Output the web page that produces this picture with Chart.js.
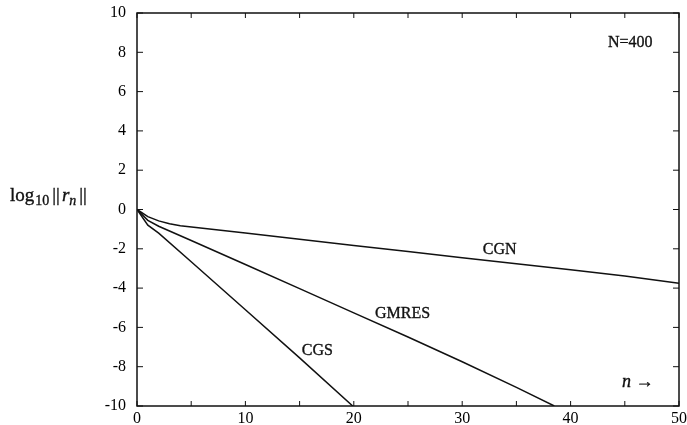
<!DOCTYPE html>
<html>
<head>
<meta charset="utf-8">
<script src="https://cdn.jsdelivr.net/npm/chart.js@4/dist/chart.umd.min.js"></script>
<style>
    html, body { margin: 0; padding: 0; background: #fff; }
    #wrap { width: 687px; height: 425px; }
</style>
</head>
<body>
<div id="wrap"><canvas id="chart" width="687" height="425"></canvas></div>
<script>
// values
var cgnX = [0, 1, 2, 3, 4, 10, 15, 20, 25, 30, 35, 40, 45, 50];
var cgnY = [0, -0.36, -0.58, -0.73, -0.83, -1.2, -1.51, -1.83, -2.14, -2.45, -2.76, -3.07, -3.38, -3.75];

var gmresX = [0, 1, 2, 5, 10, 15, 20, 25, 30, 35, 38.5];
var gmresY = [0, -0.55, -0.85, -1.58, -2.8, -4.03, -5.26, -6.49, -7.75, -9.05, -10];

var cgsX = [0, 1, 2, 5, 10, 15, 19.9];
var cgsY = [0, -0.8, -1.2, -2.66, -5.1, -7.55, -10];

var xTicks = [0, 10, 20, 30, 40, 50];
var yTicks = [-10, -8, -6, -4, -2, 0, 2, 4, 6, 8, 10];

var serif = '"Liberation Serif", "DejaVu Serif", serif';

function pts(xs, ys) {
    return xs.map(function (x, i) { return { x: x, y: ys[i] }; });
}

function line(label, xs, ys) {
    return {
        label: label,
        data: pts(xs, ys),
        borderColor: '#111',
        borderWidth: 1.5,
        pointRadius: 0,
        tension: 0,
        fill: false
    };
}

// heavier print-like text
function txt(ctx, s, x, y) {
    ctx.fillText(s, x, y);
    ctx.strokeText(s, x, y);
}

// frame, inward ticks and text on the plot
var decor = {
    id: 'decor',
    afterDraw: function (chart) {
        var ctx = chart.ctx;
        var a = chart.chartArea;
        var sx = chart.scales.x;
        var sy = chart.scales.y;
        ctx.save();
        ctx.strokeStyle = '#111';
        ctx.lineWidth = 1.5;
        ctx.strokeRect(a.left, a.top, a.right - a.left, a.bottom - a.top);

        ctx.lineWidth = 1;
        ctx.beginPath();
        for (var v = 0; v <= 50; v += 5) {
            var px = sx.getPixelForValue(v);
            ctx.moveTo(px, a.bottom); ctx.lineTo(px, a.bottom - 5);
            ctx.moveTo(px, a.top); ctx.lineTo(px, a.top + 5);
        }
        yTicks.forEach(function (t) {
            var py = sy.getPixelForValue(t);
            ctx.moveTo(a.left, py); ctx.lineTo(a.left + 6, py);
            ctx.moveTo(a.right, py); ctx.lineTo(a.right - 6, py);
        });
        ctx.stroke();

        ctx.fillStyle = '#111';
        ctx.lineWidth = 0.35;
        ctx.textAlign = 'center';
        ctx.textBaseline = 'middle';
        ctx.font = '16px ' + serif;
        txt(ctx, 'CGN', sx.getPixelForValue(33.46), sy.getPixelForValue(-2.06));
        txt(ctx, 'GMRES', sx.getPixelForValue(24.5), sy.getPixelForValue(-5.3));
        txt(ctx, 'CGS', sx.getPixelForValue(16.64), sy.getPixelForValue(-7.2));
        txt(ctx, 'N=400', sx.getPixelForValue(45.5), sy.getPixelForValue(8.47));
        ctx.font = 'italic 18px ' + serif;
        txt(ctx, 'n \u2192', sx.getPixelForValue(46.2), sy.getPixelForValue(-8.78));

        // y title: log10 ||r_n||
        ctx.textAlign = 'left';
        ctx.textBaseline = 'alphabetic';
        var x = 10, base = 201;
        ctx.font = '19px ' + serif;
        txt(ctx, 'log', x, base); x += ctx.measureText('log').width + 1;
        ctx.font = '14px ' + serif;
        txt(ctx, '10', x, base + 4); x += ctx.measureText('10').width + 3;
        ctx.font = '19px ' + serif;
        txt(ctx, '||', x, base); x += ctx.measureText('||').width + 2;
        ctx.font = 'italic 19px ' + serif;
        txt(ctx, 'r', x, base); x += ctx.measureText('r').width;
        ctx.font = 'italic 14px ' + serif;
        txt(ctx, 'n', x, base + 4); x += ctx.measureText('n').width + 3;
        ctx.font = '19px ' + serif;
        txt(ctx, '||', x, base);
        ctx.restore();
    }
};

new Chart(document.getElementById('chart'), {
    type: 'line',
    data: {
        datasets: [
            line('CGN', cgnX, cgnY),
            line('GMRES', gmresX, gmresY),
            line('CGS', cgsX, cgsY)
        ]
    },
    options: {
        responsive: false,
        animation: false,
        layout: { padding: { top: 13, right: 8, left: 0, bottom: 0 } },
        plugins: { legend: { display: false }, tooltip: { enabled: false } },
        scales: {
            x: {
                type: 'linear',
                min: 0, max: 50,
                afterFit: function (s) { s.height = 19; },
                afterBuildTicks: function (s) { s.ticks = xTicks.map(function (v) { return { value: v }; }); },
                grid: { display: false },
                border: { display: false },
                ticks: { color: '#000', padding: -5, maxRotation: 0, font: { family: serif, size: 16 } }
            },
            y: {
                type: 'linear',
                min: -10, max: 10,
                afterFit: function (s) { s.width = 137; },
                afterBuildTicks: function (s) { s.ticks = yTicks.map(function (v) { return { value: v }; }); },
                grid: { display: false },
                border: { display: false },
                ticks: { color: '#000', padding: 3, font: { family: serif, size: 16 } }
            }
        }
    },
    plugins: [decor]
});
</script>
</body>
</html>
